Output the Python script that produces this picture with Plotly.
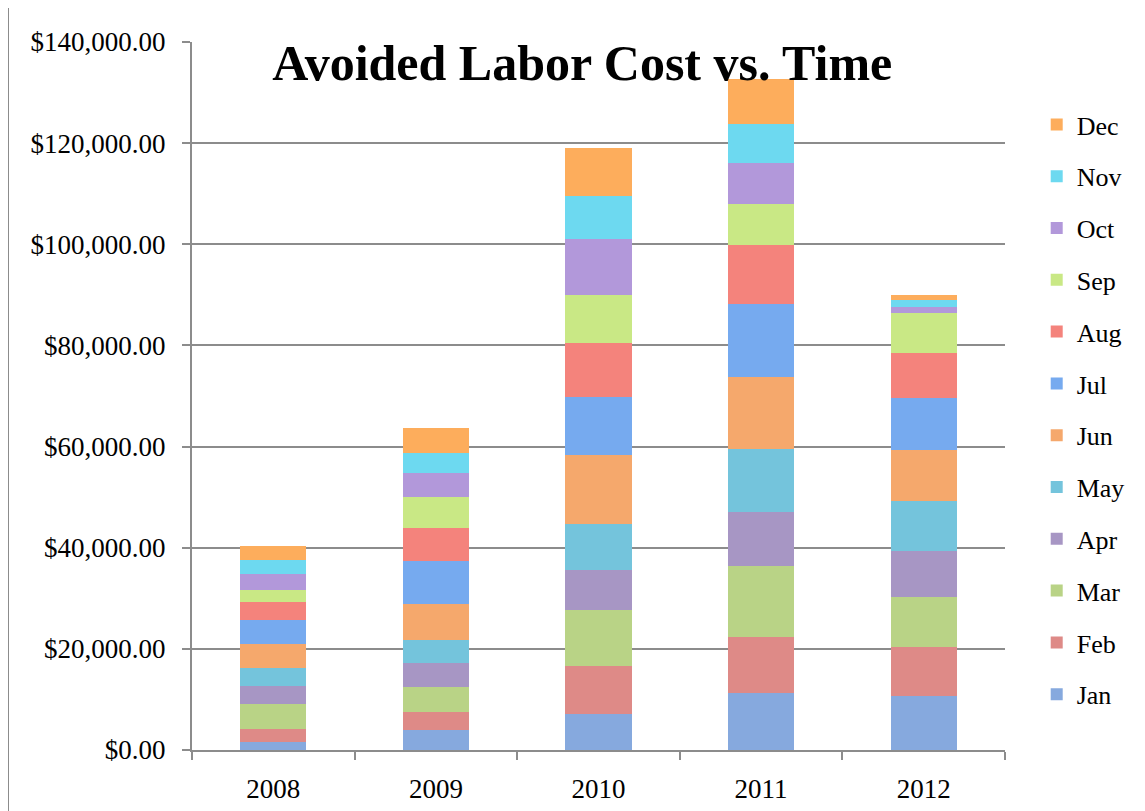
import plotly.graph_objects as go

years = ["2008", "2009", "2010", "2011", "2012"]
months = ["Jan", "Feb", "Mar", "Apr", "May", "Jun", "Jul", "Aug", "Sep", "Oct", "Nov", "Dec"]

jan = [1640, 3950, 7120, 11270, 10680]
feb = [2510, 3560, 9490, 11080, 9690]
mar = [4950, 4950, 11070, 14040, 9890]
apr = [3560, 4740, 7910, 10670, 9090]
may = [3550, 4550, 9090, 12460, 9890]
jun = [4750, 7120, 13640, 14240, 10080]
jul = [4750, 8500, 11470, 14430, 10290]
aug = [3600, 6530, 10680, 11670, 8890]
sep = [2300, 6130, 9490, 8110, 7910]
oct_ = [3160, 4750, 11080, 8110, 1190]
nov = [2770, 3950, 8500, 7710, 1380]
dec = [2770, 4940, 9490, 8900, 990]

series = [jan, feb, mar, apr, may, jun, jul, aug, sep, oct_, nov, dec]
colors = ["#86a9de", "#de8a87", "#b9d386", "#a796c4", "#74c4dc", "#f5a86c",
          "#76aaef", "#f4837c", "#c9e885", "#b298da", "#6dd9f0", "#fdad5c"]

FONT = "Liberation Serif"

fig = go.Figure()
for i, (m, vals, c) in enumerate(zip(months, series, colors)):
    fig.add_trace(go.Bar(
        x=years, y=vals, name=m, legendgroup=m,
        legendrank=1000 - 10 * i,
        marker=dict(color=c, line=dict(width=0)),
    ))

fig.update_layout(
    width=1145, height=811,
    barmode="stack",
    bargap=0.594,
    paper_bgcolor="white",
    plot_bgcolor="white",
    margin=dict(l=184, r=148, t=34, b=69),
    font=dict(family=FONT, size=26, color="black"),
    title=dict(
        text="<b>Avoided Labor Cost vs. Time</b>",
        font=dict(family=FONT, size=50, color="black"),
        x=0.48, xref="paper", xanchor="center",
        y=1 - 54 / 811, yref="container", yanchor="middle",
    ),
    legend=dict(
        traceorder="grouped",
        x=1.039, xanchor="left",
        y=0.9167, yanchor="top",
        font=dict(family=FONT, size=26),
        tracegroupgap=15,
        bgcolor="rgba(0,0,0,0)",
    ),
    showlegend=True,
)

fig.update_yaxes(
    range=[0, 140000],
    dtick=20000,
    tickformat="$,.2f",
    showgrid=True, gridcolor="#8c8c8c", gridwidth=2,
    showline=True, linecolor="#8c8c8c", linewidth=2,
    ticks="outside", ticklen=8, tickcolor="#8c8c8c", tickwidth=2,
    ticklabelstandoff=11,
    zeroline=False,
    tickfont=dict(family=FONT, size=27),
)
fig.update_xaxes(
    showline=True, linecolor="#8c8c8c", linewidth=2,
    ticks="outside", tickson="boundaries", ticklen=8, tickcolor="#8c8c8c", tickwidth=2,
    ticklabelstandoff=14,
    tickfont=dict(family=FONT, size=27),
)

fig.add_shape(type="line", xref="paper", yref="paper",
              x0=(0 - 184) / 813, x1=(0 - 184) / 813, y0=-1, y1=2,
              line=dict(color="#8c8c8c", width=2))

fig.write_html("out.html")
